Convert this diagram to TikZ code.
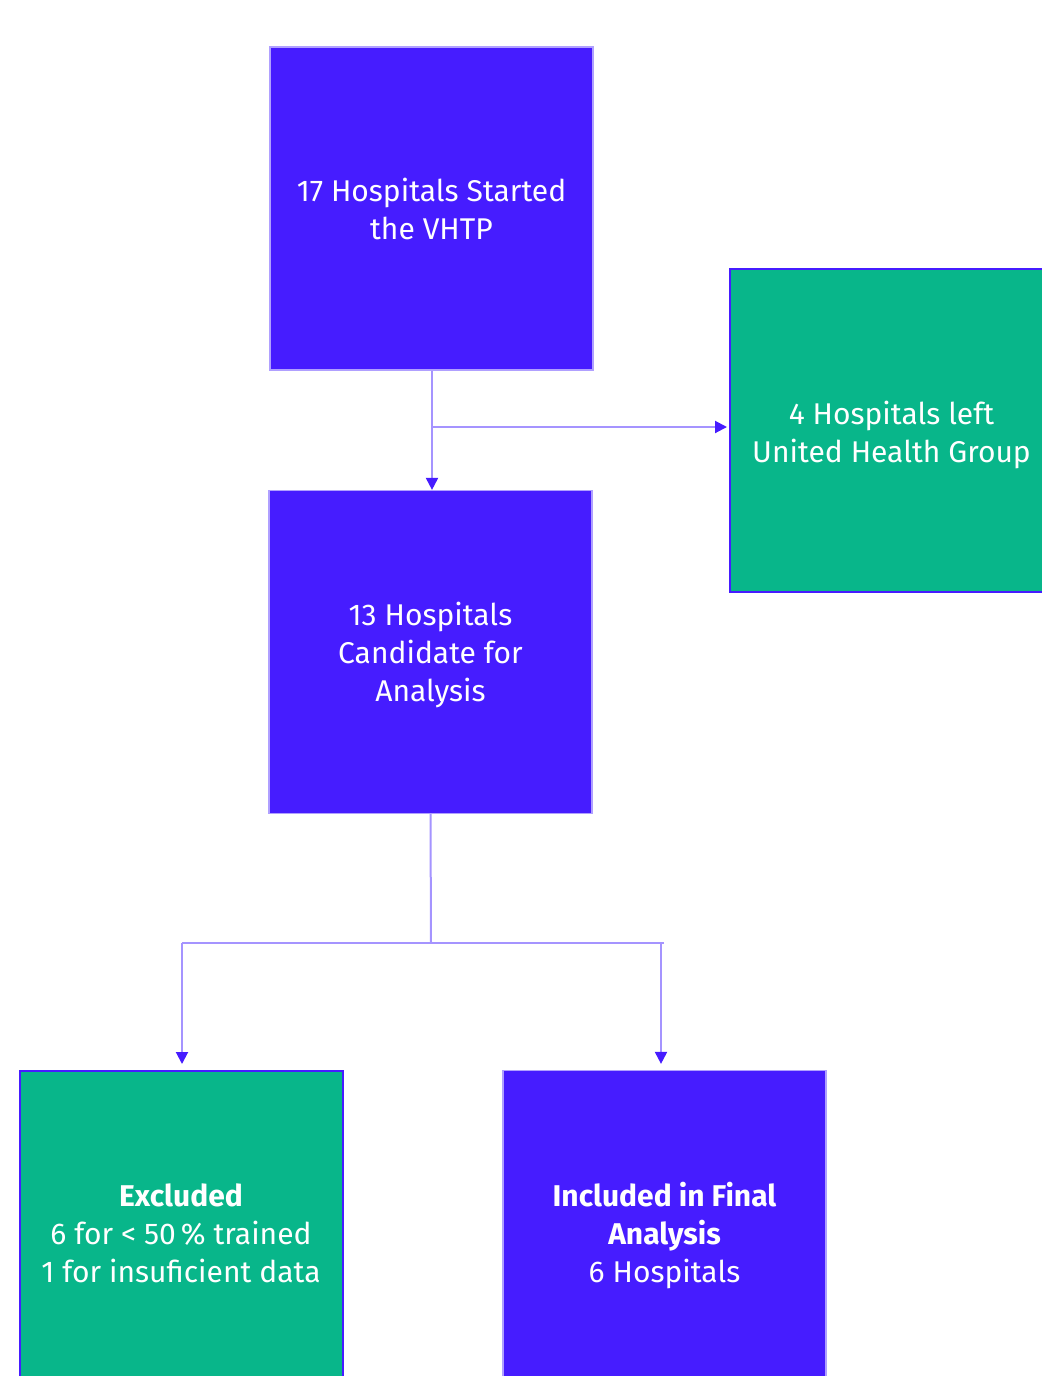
\documentclass[tikz,border=0pt]{standalone}
\usepackage{fontspec}
\setmainfont{Fira Sans}
\usetikzlibrary{arrows.meta,positioning}
\definecolor{boxblue}{HTML}{461CFF}
\definecolor{boxgreen}{HTML}{08B68A}
\definecolor{linelav}{HTML}{A594FF}
\definecolor{bordlav}{HTML}{B0A0FF}
\newcommand{\boxtxt}[2][0pt]{\raisebox{#1}[0pt][0pt]{\begin{tabular}{@{}c@{}}#2\end{tabular}}}
\begin{document}
\begin{tikzpicture}[x=0.5pt,y=-0.5pt,
  boxbase/.style={rectangle,minimum width=161.5pt,minimum height=161.5pt,inner sep=0pt,
     text=white,align=center,font=\fontsize{15}{19}\selectfont},
  bluebox/.style={boxbase,fill=boxblue,draw=bordlav,line width=0.6pt},
  greenbox/.style={boxbase,fill=boxgreen,draw=boxblue,line width=1pt},
  conn/.style={draw=linelav,line width=1pt},
  arr/.style={conn,-{Triangle[width=6pt,length=6pt,color=boxblue]}}]
\useasboundingbox (0,0) rectangle (1042,1376);
\node[bluebox] (b1) at (431.5,208.5) {\boxtxt[-5.75pt]{17 Hospitals Started\\the VHTP}};
\node[bluebox] (b2) at (430.5,652) {\boxtxt[-5.75pt]{13 Hospitals\\Candidate for\\Analysis}};
\node[greenbox] (b3) at (891.5,430) {\boxtxt[-6.75pt]{4 Hospitals left\\United Health Group}};
\node[greenbox] (b4) at (181,1232.5) {\boxtxt[-5.75pt]{\textbf{Excluded}\\6 for < 50\,\% trained\\1 for insuficient data}};
\node[bluebox] (b5) at (664.5,1232) {\boxtxt[-6.25pt]{\textbf{Included in Final}\\\textbf{Analysis}\\6 Hospitals}};
\coordinate (j1) at (432,427);
\coordinate (j2) at (431,943);
\coordinate (jl) at (182,943);
\coordinate (jr) at (661,943);
\coordinate (jre) at (664,943);
\draw[arr] (b1.south -| j1) -- (b2.north -| j1);
\draw[arr,shorten >=1pt] (j1) -- (b3.west |- j1);
\draw[conn] (b2.south) -- (j2);
\draw[conn] (jl) -- (jre);
\draw[arr,shorten >=3pt] (jl) -- (jl |- b4.north);
\draw[arr,shorten >=3pt] (jr) -- (jr |- b5.north);
\end{tikzpicture}
\end{document}
